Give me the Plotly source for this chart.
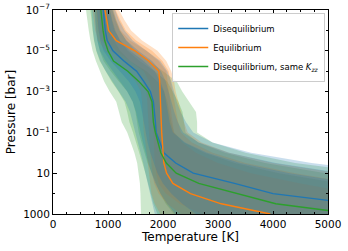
import plotly.graph_objects as go

# Pressure grid [bar]
pressure = [1e-7, 3.16e-7, 1e-6, 3.16e-6, 1e-5, 3.16e-5, 1e-4, 3.16e-4, 1e-3, 3.16e-3,
            1e-2, 3.16e-2, 1e-1, 3.16e-1, 1.0, 3.16, 10.0, 31.6, 100.0, 316.0, 1000.0]

# Disequilibrium (blue): median and three credible bands
diseq_T = [915, 930, 950, 985, 1090, 1290, 1520, 1650, 1770, 1825, 1850, 1862, 1875, 1940, 2015, 2230, 2550, 3300, 4000, 5500, 7000]
diseq_lo1 = [800, 810, 830, 860, 920, 1050, 1220, 1380, 1500, 1580, 1620, 1650, 1680, 1720, 1770, 1830, 1900, 2000, 2150, 2350, 2600]
diseq_hi1 = [1030, 1070, 1120, 1220, 1400, 1650, 1850, 1950, 2020, 2060, 2090, 2120, 2180, 2400, 2800, 3400, 4300, 5500, 7000, 8500, 10000]
diseq_lo2 = [750, 760, 778, 805, 855, 955, 1090, 1230, 1350, 1450, 1510, 1550, 1590, 1635, 1685, 1735, 1790, 1860, 1955, 2075, 2225]
diseq_hi2 = [1080, 1135, 1210, 1335, 1550, 1800, 1965, 2050, 2110, 2155, 2205, 2270, 2365, 2650, 3200, 4050, 5250, 6750, 8500, 10250, 12000]
diseq_lo3 = [700, 710, 725, 750, 790, 860, 960, 1080, 1200, 1320, 1400, 1450, 1500, 1550, 1600, 1640, 1680, 1720, 1760, 1800, 1850]
diseq_hi3 = [1130, 1200, 1300, 1450, 1700, 1950, 2080, 2150, 2200, 2250, 2320, 2420, 2550, 2900, 3600, 4700, 6200, 8000, 10000, 12000, 14000]

# Equilibrium (orange)
equil_T = [945, 975, 1010, 1150, 1490, 1740, 1925, 1940, 1950, 1955, 1960, 1968, 1976, 1985, 1995, 2015, 2065, 2180, 2500, 3060, 3950]
equil_lo1 = [830, 850, 880, 950, 1150, 1400, 1650, 1750, 1800, 1810, 1815, 1820, 1825, 1830, 1840, 1855, 1875, 1920, 2050, 2300, 2700]
equil_hi1 = [1080, 1150, 1230, 1400, 1700, 1920, 2060, 2090, 2110, 2130, 2150, 2170, 2200, 2350, 2600, 3000, 3600, 4500, 5500, 6500, 8000]
equil_lo2 = [775, 795, 825, 885, 1050, 1275, 1500, 1625, 1700, 1715, 1722, 1730, 1738, 1755, 1770, 1788, 1808, 1840, 1920, 2075, 2325]
equil_hi2 = [1140, 1225, 1325, 1510, 1800, 1990, 2105, 2145, 2170, 2205, 2240, 2275, 2325, 2525, 2900, 3500, 4400, 5500, 6750, 8000, 9500]
equil_lo3 = [720, 740, 770, 820, 950, 1150, 1350, 1500, 1600, 1620, 1630, 1640, 1650, 1680, 1700, 1720, 1740, 1760, 1790, 1850, 1950]
equil_hi3 = [1200, 1300, 1420, 1620, 1900, 2060, 2150, 2200, 2230, 2280, 2330, 2380, 2450, 2700, 3200, 4000, 5200, 6500, 8000, 9500, 11000]

# Disequilibrium, same Kzz (green)
samekzz_T = [870, 885, 910, 940, 1000, 1100, 1360, 1560, 1730, 1800, 1815, 1825, 1860, 1905, 1960, 2060, 2240, 2650, 3350, 4050, 5500]
samekzz_lo1 = [760, 770, 790, 810, 850, 920, 1050, 1200, 1350, 1450, 1500, 1530, 1560, 1610, 1660, 1720, 1800, 1880, 1950, 2050, 2200]
samekzz_hi1 = [980, 1010, 1050, 1110, 1220, 1400, 1700, 1900, 2020, 2080, 2110, 2150, 2200, 2380, 2750, 3300, 4100, 5200, 6500, 8000, 10000]
samekzz_lo2 = [680, 695, 720, 745, 785, 850, 950, 1065, 1190, 1300, 1350, 1390, 1455, 1515, 1570, 1625, 1680, 1730, 1770, 1825, 1900]
samekzz_hi2 = [1040, 1080, 1135, 1220, 1360, 1575, 1850, 2075, 2185, 2280, 2355, 2385, 2410, 2640, 3125, 3850, 4950, 6350, 8000, 9750, 12000]
samekzz_lo3 = [600, 620, 650, 680, 720, 780, 850, 930, 1030, 1150, 1200, 1250, 1350, 1420, 1480, 1530, 1560, 1580, 1590, 1600, 1600]
samekzz_hi3 = [1100, 1150, 1220, 1330, 1500, 1750, 2000, 2250, 2350, 2480, 2600, 2620, 2620, 2900, 3500, 4400, 5800, 7500, 9500, 11500, 14000]

x_ticks = [0, 1000, 2000, 3000, 4000, 5000]
y_tickvals = [1e-7, 1e-5, 1e-3, 1e-1, 10, 1000]
y_ticktext = ["10<sup>−7</sup>", "10<sup>−5</sup>", "10<sup>−3</sup>", "10<sup>−1</sup>", "10", "1000"]
y_minor = [1e-6, 1e-4, 1e-2, 1, 100]

series = {
    "diseq": ("Disequilibrium", "#1f77b4", "rgba(31,119,180,0.24)", diseq_T,
              [(diseq_lo3, diseq_hi3), (diseq_lo2, diseq_hi2), (diseq_lo1, diseq_hi1)]),
    "equil": ("Equilibrium", "#ff7f0e", "rgba(255,127,14,0.24)", equil_T,
              [(equil_lo3, equil_hi3), (equil_lo2, equil_hi2), (equil_lo1, equil_hi1)]),
    "samekzz": ("Disequilibrium, same <i>K</i><sub><i>zz</i></sub>", "#2ca02c", "rgba(44,160,44,0.24)", samekzz_T,
                [(samekzz_lo3, samekzz_hi3), (samekzz_lo2, samekzz_hi2), (samekzz_lo1, samekzz_hi1)]),
}

fig = go.Figure()
for key in ["samekzz", "equil", "diseq"]:
    name, col, fcol, center, bands = series[key]
    for lo, hi in bands:
        fig.add_trace(go.Scatter(
            x=list(lo) + list(hi)[::-1],
            y=list(pressure) + list(pressure)[::-1],
            fill="toself", fillcolor=fcol, line=dict(width=0),
            mode="lines", showlegend=False, hoverinfo="skip"))
for key in ["diseq", "equil", "samekzz"]:
    name, col, fcol, center, bands = series[key]
    fig.add_trace(go.Scatter(x=center, y=pressure, mode="lines", name=name,
                             line=dict(color=col, width=1.4)))

font = "DejaVu Sans, sans-serif"
fig.update_layout(
    width=348, height=251,
    margin=dict(l=53, r=20, t=10, b=37),
    plot_bgcolor="white", paper_bgcolor="white",
    font=dict(family=font, size=10.5, color="black"),
    showlegend=True,
    legend=dict(x=0.99, y=0.985, xanchor="right", yanchor="top",
                bgcolor="rgba(255,255,255,0.8)", bordercolor="#cccccc", borderwidth=1,
                font=dict(size=8.5, family=font), tracegroupgap=0, itemwidth=30),
    xaxis=dict(range=[0, 5000], tickvals=x_ticks, ticks="inside", ticklen=3.5,
               tickcolor="black", showline=True, linecolor="black", linewidth=1,
               mirror="allticks", showgrid=False, zeroline=False, automargin=False,
               title=dict(text="Temperature [K]", font=dict(size=12), standoff=2),
               minor=dict(dtick=250, ticks="inside", ticklen=2, tickcolor="black", showgrid=False)),
    yaxis=dict(type="log", range=[3, -7], tickvals=y_tickvals, ticktext=y_ticktext,
               ticks="inside", ticklen=3.5, tickcolor="black", showline=True,
               linecolor="black", linewidth=1, mirror="allticks", showgrid=False,
               zeroline=False, automargin=False,
               title=dict(text="Pressure [bar]", font=dict(size=12), standoff=4),
               minor=dict(tickvals=y_minor, ticks="inside", ticklen=2, tickcolor="black", showgrid=False)),
)

fig.write_html("out.html", config={"displayModeBar": False, "staticPlot": True},
               post_script="document.body.style.margin='0';document.body.style.overflow='hidden';")
